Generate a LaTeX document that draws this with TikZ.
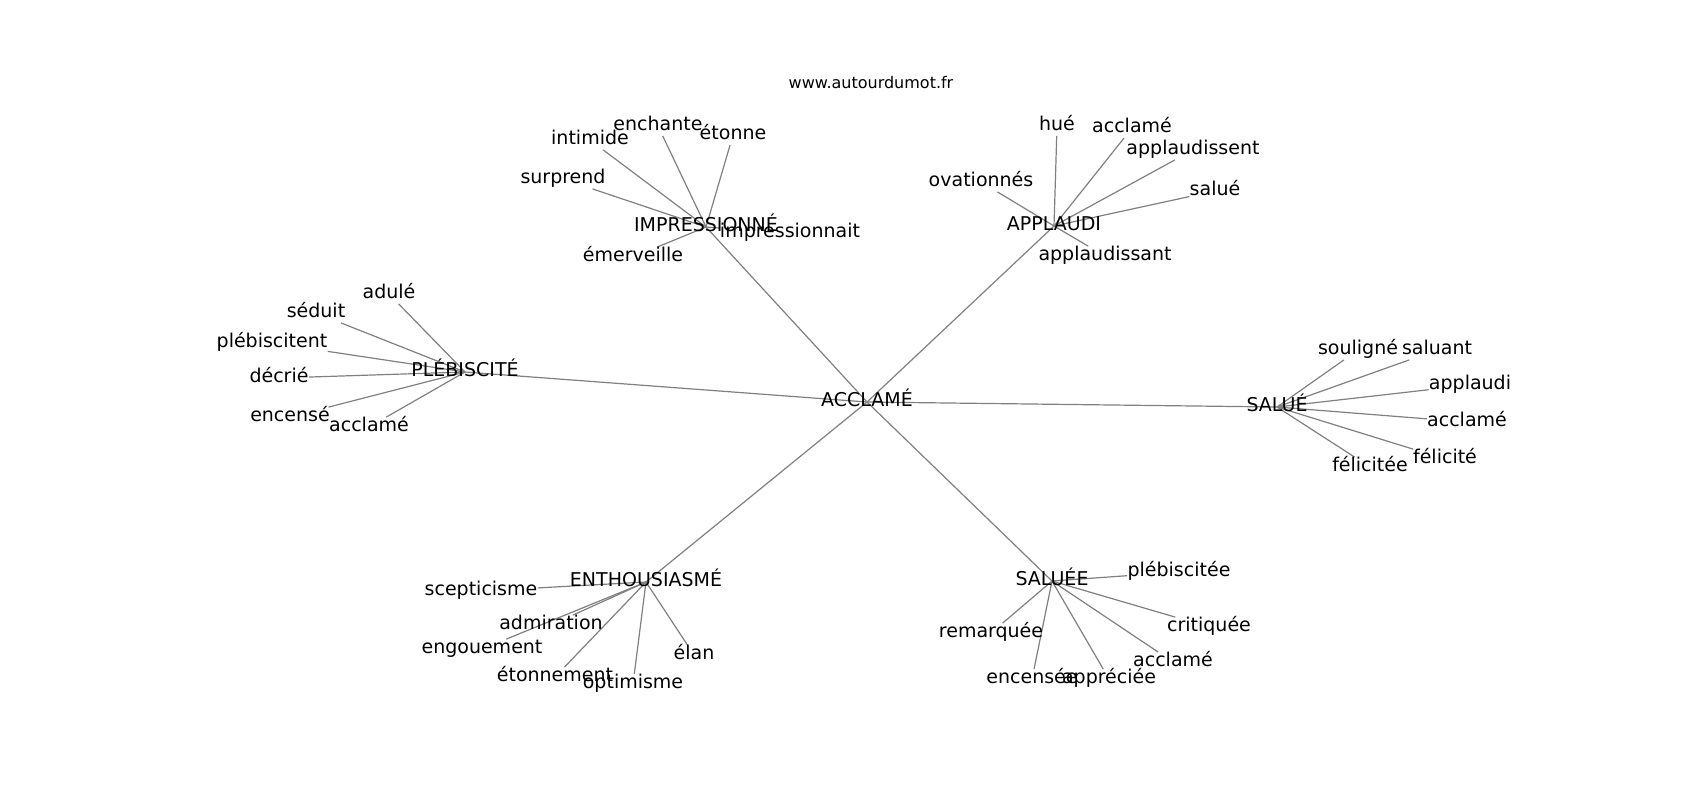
\documentclass[tikz,border=0pt]{standalone}
\usepackage{fontspec}
\setmainfont{DejaVu Sans}
\usetikzlibrary{backgrounds}
\tikzset{
  word/.style={inner sep=0pt,text height=7pt,text depth=2.5pt,font=\fontsize{9.5}{11}\selectfont},
  edge/.style={draw=gray,line width=0.6pt}
}
\begin{document}
\begin{tikzpicture}[x=0.5pt,y=-0.5pt]
\useasboundingbox (0,0) rectangle (1700,800);
\node[anchor=base,font=\fontsize{8}{10}\selectfont] (site) at (871,88) {www.autourdumot.fr};

\node[word] (acc) at (867,402) {ACCLAMÉ};
\node[word] (imp) at (706,227) {IMPRESSIONNÉ};
\node[word] (app) at (1054,226) {APPLAUDI};
\node[word] (ple) at (465,372) {PLÉBISCITÉ};
\node[word] (sal) at (1277,407) {SALUÉ};
\node[word] (ent) at (646,582) {ENTHOUSIASMÉ};
\node[word] (sae) at (1052,581) {SALUÉE};

\node[word] (intimide) at (590,140) {intimide};
\node[word] (enchante) at (658,126) {enchante};
\node[word] (etonne) at (733,135) {étonne};
\node[word] (surprend) at (563,179) {surprend};
\node[word] (emerveille) at (633,257) {émerveille};
\node[word] (impressionnait) at (790,233) {impressionnait};

\node[word] (hue) at (1057,126) {hué};
\node[word] (acclameA) at (1132,128) {acclamé};
\node[word] (applaudissent) at (1193,150) {applaudissent};
\node[word] (salue) at (1215,191) {salué};
\node[word] (ovationnes) at (981,182) {ovationnés};
\node[word] (applaudissant) at (1105,256) {applaudissant};

\node[word] (adule) at (389,294) {adulé};
\node[word] (seduit) at (316,313) {séduit};
\node[word] (plebiscitent) at (272,343) {plébiscitent};
\node[word] (decrie) at (279,378) {décrié};
\node[word] (encense) at (290,417) {encensé};
\node[word] (acclameP) at (369,427) {acclamé};

\node[word] (souligne) at (1358,350) {souligné};
\node[word] (saluant) at (1437,350) {saluant};
\node[word] (applaudi) at (1470,385) {applaudi};
\node[word] (acclameS) at (1467,422) {acclamé};
\node[word] (felicite) at (1445,459) {félicité};
\node[word] (felicitee) at (1370,467) {félicitée};

\node[word] (scepticisme) at (481,591) {scepticisme};
\node[word] (admiration) at (551,625) {admiration};
\node[word] (engouement) at (482,649) {engouement};
\node[word] (etonnement) at (555,677) {étonnement};
\node[word] (optimisme) at (633,684) {optimisme};
\node[word] (elan) at (694,655) {élan};

\node[word] (plebiscitee) at (1179,572) {plébiscitée};
\node[word] (critiquee) at (1209,627) {critiquée};
\node[word] (remarquee) at (991,633) {remarquée};
\node[word] (acclameE) at (1173,662) {acclamé};
\node[word] (encensee) at (1032,679) {encensée};
\node[word] (appreciee) at (1109,679) {appréciée};

\begin{scope}[on background layer]
\fill[white] (0,0) rectangle (1700,800);
\foreach \h in {imp,app,ple,sal,ent,sae}
  \draw[edge] (acc.center) -- (\h.center);
\foreach \l in {intimide,enchante,etonne,surprend,emerveille,impressionnait}
  \draw[edge] (imp.center) -- (\l);
\foreach \l in {hue,acclameA,applaudissent,salue,ovationnes,applaudissant}
  \draw[edge] (app.center) -- (\l);
\foreach \l in {adule,seduit,plebiscitent,decrie,encense,acclameP}
  \draw[edge] (ple.center) -- (\l);
\foreach \l in {souligne,saluant,applaudi,acclameS,felicite,felicitee}
  \draw[edge] (sal.center) -- (\l);
\foreach \l in {scepticisme,admiration,engouement,etonnement,optimisme,elan}
  \draw[edge] (ent.center) -- (\l);
\foreach \l in {plebiscitee,critiquee,remarquee,acclameE,encensee,appreciee}
  \draw[edge] (sae.center) -- (\l);
\end{scope}
\end{tikzpicture}
\end{document}
